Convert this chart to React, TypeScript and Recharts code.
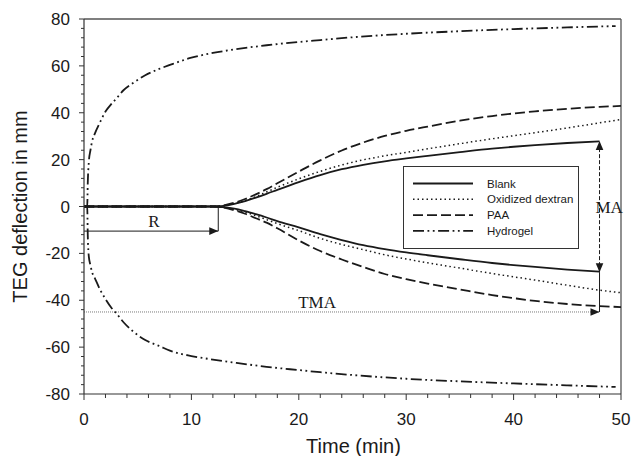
import React from 'react';
import { LineChart, Line, XAxis, YAxis, ReferenceLine, ReferenceDot, Legend } from 'recharts';

// ---- data ----
const times = [0, 12, 13, 14, 15, 16, 17, 18, 20, 22, 24, 26, 28, 30, 32, 35, 38, 40, 42, 45, 48, 50];
const blankUpper = [0, 0, 0.3, 1.1, 2.3, 3.8, 5.4, 7.1, 10.4, 13.4, 15.9, 17.8, 19.3, 20.5, 21.6, 23.2, 24.7, 25.5, 26.2, 27.1, 27.8, null];
const blankLower = [0, 0, -0.3, -0.9, -2, -3.3, -4.7, -6.2, -8.9, -11.8, -14.3, -16.5, -18.2, -19.6, -20.8, -22.5, -24.1, -25, -25.8, -26.9, -27.8, null];
const dextranUpper = [0, 0, 0.4, 1.2, 2.5, 4.2, 6.2, 8.2, 11.8, 15, 17.7, 19.9, 21.6, 23.1, 24.6, 26.8, 28.9, 30.2, 31.5, 33.5, 35.7, 37.1];
const dextranLower = [0, 0, -0.4, -1.2, -2.4, -3.9, -5.6, -7.3, -10.3, -13.6, -16.2, -18.4, -20.6, -22.4, -24, -26.3, -28.6, -30, -31.4, -33.6, -35.7, -36.8];
const paaUpper = [0, 0, 0.5, 1.6, 3.2, 5.2, 7.4, 9.9, 14.9, 19.7, 23.9, 27.3, 30.1, 32.3, 34.1, 36.6, 38.6, 39.7, 40.6, 41.7, 42.5, 42.9];
const paaLower = [0, 0, -0.5, -1.6, -3.1, -5, -6.9, -9.3, -14.5, -19, -22.6, -25.8, -28.8, -31, -32.9, -35.4, -37.8, -39.1, -40.3, -41.6, -42.5, -42.9];

const hydroTimes = [0, 0.3, 0.35, 0.45, 0.6, 0.75, 1, 1.5, 2, 2.6, 3, 3.7, 4.5, 5.7, 7, 8, 10, 12, 14, 17, 20, 22, 25, 30, 35, 40, 45, 49.5];
const hydroUpper = [0, 0, 10, 19, 24, 27.7, 31, 36, 40.5, 44, 46, 49.7, 52.5, 56, 58.7, 60.4, 63.5, 65.5, 67, 68.8, 70.2, 71, 72.2, 73.7, 74.8, 75.7, 76.4, 77];
const hydroLower = [0, 0, -12, -21.4, -25, -28, -30.5, -35.5, -39.5, -43.5, -45.5, -49.5, -53, -57, -59.5, -61.5, -63.8, -65.3, -66.6, -68.4, -69.8, -70.7, -71.9, -73.5, -74.6, -75.5, -76.3, -77];

// annotations
const rArrowTimes = [0, 12.5];
const rArrowLevel = [-10.5, -10.5];
const rDropTimes = [12.5, 12.5];
const rDropLevel = [0, -10.5];
const tmaTimes = [0, 48];
const tmaLevel = [-45, -45];
const maTimes = [48, 48];
const maLevel = [-28, 28];
const tmaDropLevel = [-28, -45];

const textLabels = [
  { text: 'R', t: 6.5, v: -8.8 },
  { text: 'TMA', t: 21.7, v: -43.4 },
  { text: 'MA', t: 48.9, v: -2.9 },
];

const xMajor = [0, 10, 20, 30, 40, 50];
const yMajor = [-80, -60, -40, -20, 0, 20, 40, 60, 80];
const xTicks = Array.from({ length: 26 }, (_, i) => i * 2);
const yTicks = Array.from({ length: 41 }, (_, i) => -80 + i * 4);

const legendItems = [
  { name: 'Blank', dash: undefined, width: 1.8 },
  { name: 'Oxidized dextran', dash: '1.5 3', width: 1.5 },
  { name: 'PAA', dash: '10 4', width: 1.8 },
  { name: 'Hydrogel', dash: '11 3.5 1.8 3.5 1.8 3.5', width: 1.8 },
];

const SANS = 'Liberation Sans, Arial, Helvetica, sans-serif';
const SERIF = 'Liberation Serif, Times New Roman, serif';
const INK = '#1a1a1a';

const rows = (t: number[], v: (number | null)[]) =>
  t.map((x, i) => ({ t: x, v: v[i] })).filter((d) => d.v !== null);

const renderXTick = (props: any) => {
  const { x, y, payload } = props;
  const major = xMajor.includes(payload.value);
  return (
    <g key={`xt-${payload.value}`}>
      <line x1={x} x2={x} y1={y} y2={y + (major ? 6 : 4)} stroke="#333" strokeWidth={1} />
      {major && (
        <text x={x} y={y + 31} textAnchor="middle" fontSize={17} fontFamily={SANS} fill={INK}>
          {payload.value}
        </text>
      )}
    </g>
  );
};

const renderYTick = (props: any) => {
  const { x, y, payload } = props;
  const major = yMajor.includes(payload.value);
  return (
    <g key={`yt-${payload.value}`}>
      <line x1={x - (major ? 5 : 3)} x2={x} y1={y} y2={y} stroke="#333" strokeWidth={1} />
      {major && (
        <text x={x - 14} y={y} dy="0.36em" textAnchor="end" fontSize={17} fontFamily={SANS} fill={INK}>
          {payload.value}
        </text>
      )}
    </g>
  );
};

const arrowDot = (dir: 'right' | 'up' | 'down', at: number[]) => (props: any) => {
  const { cx, cy, index } = props;
  if (!at.includes(index) || cx == null || cy == null) return <g key={`a-${dir}-${index}`} />;
  let d = '';
  let dd = dir;
  if (dir === 'up' && index === 0) dd = 'down';
  if (dir === 'right') d = `M${cx},${cy} L${cx - 9},${cy - 3.8} L${cx - 9},${cy + 3.8} Z`;
  if (dd === 'up') d = `M${cx},${cy} L${cx - 3.8},${cy + 9} L${cx + 3.8},${cy + 9} Z`;
  if (dd === 'down') d = `M${cx},${cy} L${cx - 3.8},${cy - 9} L${cx + 3.8},${cy - 9} Z`;
  return <path key={`a-${dir}-${index}`} d={d} fill={INK} stroke="none" />;
};

const renderLegend = () => (
  <svg width={176} height={83} style={{ display: 'block' }}>
    <rect x={0.5} y={0.5} width={175} height={82} fill="#fff" stroke="#333" strokeWidth={1} />
    {legendItems.map((it, i) => {
      const cy = 17.5 + i * 15.8;
      return (
        <g key={it.name}>
          <line x1={10} x2={70} y1={cy} y2={cy} stroke={INK} strokeWidth={it.width} strokeDasharray={it.dash} />
          <text x={84} y={cy} dy="0.36em" fontSize={11.5} fontFamily={SANS} fill={INK}>
            {it.name}
          </text>
        </g>
      );
    })}
  </svg>
);

const curve = (key: string, data: any[], dash: string | undefined, width: number, name?: string) => (
  <Line
    key={key}
    data={data}
    dataKey="v"
    name={name || key}
    type="monotone"
    stroke={INK}
    strokeWidth={width}
    strokeDasharray={dash}
    dot={false}
    activeDot={false}
    isAnimationActive={false}
    legendType={name ? 'line' : 'none'}
  />
);

export default function App() {
  return (
    <div style={{ position: 'absolute', left: 0, top: 0, width: 633, height: 456, background: '#fff' }}>
      <LineChart width={633} height={456} margin={{ top: 19, right: 12, bottom: 0, left: 0 }}>
        <XAxis
          type="number"
          dataKey="t"
          domain={[0, 50]}
          allowDataOverflow
          ticks={xTicks}
          interval={0}
          tickLine={false}
          tickSize={0}
          tickMargin={0}
          tick={renderXTick}
          axisLine={{ stroke: '#333', strokeWidth: 1.2 }}
          height={62}
          label={{
            content: (p: any) => {
              const vb = p.viewBox || { x: 84, y: 394, width: 537 };
              return (
                <text x={vb.x + vb.width / 2 + 1} y={vb.y + 58.5} textAnchor="middle" fontSize={20} fontFamily={SANS} fill={INK}>
                  Time (min)
                </text>
              );
            },
          }}
        />
        <YAxis
          type="number"
          domain={[-80, 80]}
          allowDataOverflow
          ticks={yTicks}
          interval={0}
          tickLine={false}
          tickSize={0}
          tickMargin={0}
          tick={renderYTick}
          axisLine={{ stroke: '#333', strokeWidth: 1.2 }}
          width={84}
          label={{
            content: (p: any) => {
              const vb = p.viewBox || { x: 0, y: 19, height: 375 };
              const cx = vb.x + 20;
              const cy = vb.y + vb.height / 2;
              return (
                <text
                  x={cx}
                  y={cy}
                  dy="0.36em"
                  transform={`rotate(-90 ${cx} ${cy})`}
                  textAnchor="middle"
                  fontSize={20}
                  fontFamily={SANS}
                  fill={INK}
                >
                  TEG deflection in mm
                </text>
              );
            },
          }}
        />
        <ReferenceLine y={80} stroke="#555" strokeWidth={1.3} />
        <ReferenceLine x={50} stroke="#555" strokeWidth={1.3} />

        {curve('blankU', rows(times, blankUpper), undefined, 1.8, 'Blank')}
        {curve('blankL', rows(times, blankLower), undefined, 1.8)}
        {curve('dexU', rows(times, dextranUpper), '1.5 3', 1.5, 'Oxidized dextran')}
        {curve('dexL', rows(times, dextranLower), '1.5 3', 1.5)}
        {curve('paaU', rows(times, paaUpper), '10 4', 1.8, 'PAA')}
        {curve('paaL', rows(times, paaLower), '10 4', 1.8)}
        {curve('hydU', rows(hydroTimes, hydroUpper), '11 3.5 1.8 3.5 1.8 3.5', 1.8, 'Hydrogel')}
        {curve('hydL', rows(hydroTimes, hydroLower), '11 3.5 1.8 3.5 1.8 3.5', 1.8)}

        <Line data={rows(rArrowTimes, rArrowLevel)} dataKey="v" type="linear" stroke={INK} strokeWidth={1}
          dot={arrowDot('right', [1])} activeDot={false} isAnimationActive={false} legendType="none" />
        <Line data={rows(rDropTimes, rDropLevel)} dataKey="v" type="linear" stroke={INK} strokeWidth={1}
          dot={false} activeDot={false} isAnimationActive={false} legendType="none" />
        <Line data={rows(tmaTimes, tmaLevel)} dataKey="v" type="linear" stroke="#555" strokeWidth={0.8} strokeDasharray="1 1"
          dot={arrowDot('right', [1])} activeDot={false} isAnimationActive={false} legendType="none" />
        <Line data={rows(maTimes, maLevel)} dataKey="v" type="linear" stroke={INK} strokeWidth={1} strokeDasharray="4 2"
          dot={arrowDot('up', [0, 1])} activeDot={false} isAnimationActive={false} legendType="none" />
        <Line data={rows(maTimes, tmaDropLevel)} dataKey="v" type="linear" stroke={INK} strokeWidth={1}
          dot={false} activeDot={false} isAnimationActive={false} legendType="none" />

        {textLabels.map((l) => (
          <ReferenceDot
            key={l.text}
            x={l.t}
            y={l.v}
            r={0}
            shape={(p: any) => (
              <text x={p.cx} y={p.cy} textAnchor="middle" fontSize={17} fontFamily={SERIF} fill={INK}>
                {l.text}
              </text>
            )}
          />
        ))}

        <Legend
          layout="vertical"
          align="center"
          verticalAlign="middle"
          width={176}
          height={83}
          wrapperStyle={{ left: 403, top: 166, width: 176, height: 83 }}
          content={renderLegend}
        />
      </LineChart>
    </div>
  );
}
